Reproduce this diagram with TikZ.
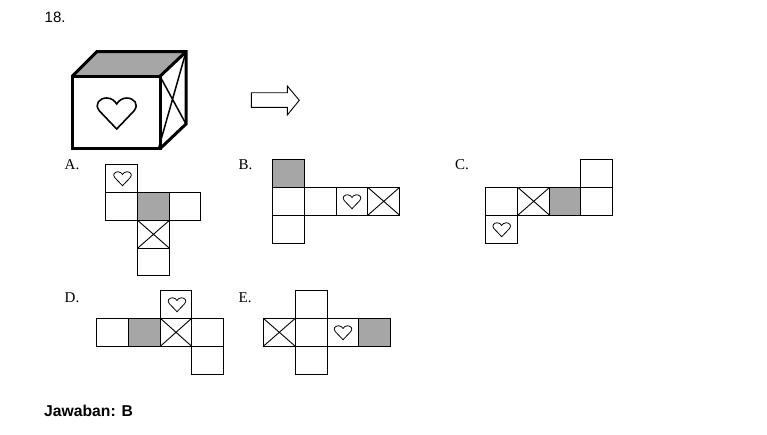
\documentclass[tikz,border=0pt]{standalone}
\usepackage{fontspec}
\setmainfont{Liberation Serif}
\newfontfamily\arialfont{Liberation Sans}
\definecolor{facegrey}{HTML}{A6A6A6}
\tikzset{
  cellbox/.style={draw=black,line width=1pt,fill=white},
  greybox/.style={draw=black,line width=1pt,fill=facegrey},
  crossbox/.style={draw=black,line width=1pt,fill=white,path picture={
    \draw[line width=.9pt] (path picture bounding box.north west)--(path picture bounding box.south east)
    (path picture bounding box.north east)--(path picture bounding box.south west);}},
  cubeline/.style={draw=black,line width=3pt,line join=miter},
  optlabel/.style={font=\fontsize{15}{17}\selectfont,anchor=base west,inner sep=0pt},
  sanslabel/.style={font=\arialfont\fontsize{15}{17}\selectfont,anchor=base west,inner sep=0pt},
  smallheart/.style={draw=black,line width=.8pt,x=9pt,y=-9pt},
  bigheart/.style={draw=black,line width=1.6pt,x=20pt,y=-20pt},
  pics/heart/.style={code={
    \draw[line join=miter,pic actions] (0,.8) -- (-.86,-.1) .. controls (-1.15,-.45) and (-.85,-.75) .. (-.5,-.75)
      .. controls (-.25,-.75) and (-.1,-.6) .. (0,-.45)
      .. controls (.1,-.6) and (.25,-.75) .. (.5,-.75)
      .. controls (.85,-.75) and (1.15,-.45) .. (.86,-.1) -- cycle;
  }}
}
\begin{document}
\begin{tikzpicture}[x=1pt,y=-1pt]
\useasboundingbox (0,0) rectangle (767,434);
\fill[white] (0,0) rectangle (767,434);
\node[sanslabel] (num) at (44.5,22) {18.};
% cube
\fill[facegrey] (72.3,76.3) -- (96.7,51.7) -- (186,51.7) -- (160,76.3) -- cycle;
\draw[line width=1.5pt] (160,76.3) -- (186,124) (158.5,148.7) -- (186,51.7);
\draw[cubeline] (72.3,76.3) -- (96.7,51.7) -- (186,51.7) -- (186,124) -- (160,148.7);
\draw[cubeline] (160,76.3) -- (186,51.7);
\draw[cubeline] (72.3,76.3) rectangle (160,148.7);
\pic[bigheart] (hbig) at (116.7pt,-113pt) {heart};
% arrow
\draw[line width=.9pt,fill=white] (251.3,92.7) -- (287.3,92.7) -- (287.3,86) -- (299.3,100.3) -- (287.3,115) -- (287.3,107.3) -- (251.3,107.3) -- cycle;
% A
\node[optlabel] (la) at (64.5,169) {A.};
\draw[cellbox] (105.5,164.5) rectangle (137.5,192.3);
\draw[cellbox] (105.5,192.3) rectangle (137.5,220.3);
\draw[greybox] (137.5,192.3) rectangle (169.5,220.3);
\draw[cellbox] (169.5,192.3) rectangle (200.7,220.3);
\draw[crossbox] (137.5,220.3) rectangle (169.5,248.3);
\draw[cellbox] (137.5,248.3) rectangle (169.5,275.5);
\pic[smallheart] (ha) at (122.5pt,-178.5pt) {heart};
% B
\node[optlabel] (lb) at (238.5,169) {B.};
\draw[greybox] (272.3,159.3) rectangle (304.3,187.3);
\draw[cellbox] (272.3,187.3) rectangle (304.3,215.3);
\draw[cellbox] (304.3,187.3) rectangle (336.3,215.3);
\draw[cellbox] (336.3,187.3) rectangle (367.7,215.3);
\draw[crossbox] (367.7,187.3) rectangle (399.7,215.3);
\draw[cellbox] (272.3,215.3) rectangle (304.3,243.3);
\pic[smallheart] (hb) at (352pt,-201.5pt) {heart};
% C
\node[optlabel] (lc) at (455,169) {C.};
\draw[cellbox] (580.3,159.3) rectangle (612.7,187.3);
\draw[cellbox] (485.7,187.3) rectangle (517.7,215.3);
\draw[crossbox] (517.7,187.3) rectangle (549.7,215.3);
\draw[greybox] (549.7,187.3) rectangle (580.3,215.3);
\draw[cellbox] (580.3,187.3) rectangle (612.7,215.3);
\draw[cellbox] (485.7,215.3) rectangle (517.7,243.3);
\pic[smallheart] (hc) at (501.7pt,-229.5pt) {heart};
% D
\node[optlabel] (ld) at (64.5,302) {D.};
\draw[cellbox] (160.3,290.3) rectangle (191.7,318.3);
\draw[cellbox] (96.3,318.3) rectangle (128.3,346.3);
\draw[greybox] (128.3,318.3) rectangle (160.3,346.3);
\draw[crossbox] (160.3,318.3) rectangle (191.7,346.3);
\draw[cellbox] (191.7,318.3) rectangle (223.7,346.3);
\draw[cellbox] (191.7,346.3) rectangle (223.7,374.3);
\pic[smallheart] (hd) at (177pt,-304.5pt) {heart};
% E
\node[optlabel] (le) at (238.5,302) {E.};
\draw[cellbox] (295.3,290.3) rectangle (327.3,318.3);
\draw[crossbox] (263.3,318.3) rectangle (295.3,346.3);
\draw[cellbox] (295.3,318.3) rectangle (327.3,346.3);
\draw[cellbox] (327.3,318.3) rectangle (358.7,346.3);
\draw[greybox] (358.7,318.3) rectangle (390.7,346.3);
\draw[cellbox] (295.3,346.3) rectangle (327.3,374.3);
\pic[smallheart] (he) at (343pt,-332.5pt) {heart};
\node[sanslabel,font=\arialfont\bfseries\fontsize{15.7}{18}\selectfont] (ans) at (44,416.5) {Jawaban: B};
\end{tikzpicture}
\end{document}
